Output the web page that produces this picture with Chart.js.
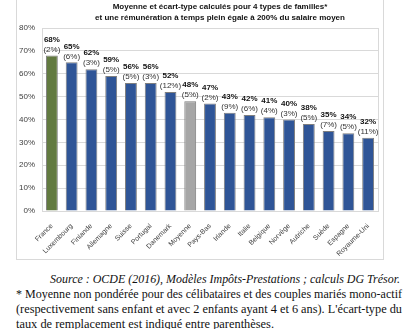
<!DOCTYPE html>
<html>
<head>
<meta charset="utf-8">
<script src="https://cdn.jsdelivr.net/npm/chart.js@4.4.0/dist/chart.umd.min.js"></script>
<style>
  body { margin: 0; background: #fff; width: 415px; height: 329px; overflow: hidden; position: relative; }
  #frame { position: absolute; left: 16px; top: -1px; width: 366px; height: 259px; border: 1px solid #d9d9d9; }
  #wrap { position: absolute; left: 0; top: 0; width: 384px; height: 260px; }
  #notes { position: absolute; left: 16px; top: 271px; width: 386px; font-family: "Liberation Serif", serif; font-size: 13px; line-height: 15px; color: #111; }
  #notes div { white-space: nowrap; transform-origin: left center; }
  #notes .src { font-style: italic; }
</style>
</head>
<body>
<div id="frame"></div>
<div id="wrap"><canvas id="BarChart" width="384" height="260"></canvas></div>
<div id="notes">
  <div class="src">Source : OCDE (2016), Modèles Impôts-Prestations ; calculs DG Trésor.</div>
  <div class="fit">* Moyenne non pondérée pour des célibataires et des couples mariés mono-actif</div>
  <div class="fit">(respectivement sans enfant et avec 2 enfants ayant 4 et 6 ans). L'écart-type du</div>
  <div class="last">taux de remplacement est indiqué entre parenthèses.</div>
</div>
<script>
const countries = ["France", "Luxembourg", "Finlande", "Allemagne", "Suisse", "Portugal", "Danemark", "Moyenne",
  "Pays-Bas", "Irlande", "Italie", "Belgique", "Norvège", "Autriche", "Suède", "Espagne", "Royaume-Uni"];
const rates = [68, 65, 62, 59, 56, 56, 52, 48, 47, 43, 42, 41, 40, 38, 35, 34, 32];//taux de remplacement
const stdDev = [2, 6, 3, 5, 5, 3, 12, 5, 2, 9, 6, 4, 3, 5, 7, 5, 11];//écart-type
const yTicks = [0, 10, 20, 30, 40, 50, 60, 70, 80];
const titleLines = ["Moyenne et écart-type calculés pour 4 types de familles*",
  "et une rémunération à temps plein égale à 200% du salaire moyen"];

const barColors = countries.map(c => c === "France" ? "#627a40" : (c === "Moyenne" ? "#a6a6a6" : "#2f5597"));

// titre + étiquettes au-dessus des barres
const labelPlugin = {
  id: "labels",
  afterDraw(chart) {
    const ctx = chart.ctx;
    const area = chart.chartArea;
    ctx.save();
    ctx.strokeStyle = "#d9d9d9";
    ctx.lineWidth = 1;
    ctx.beginPath();
    ctx.moveTo(area.right + 0.5, area.top);
    ctx.lineTo(area.right + 0.5, area.bottom);
    ctx.stroke();

    ctx.textAlign = "center";
    ctx.textBaseline = "middle";
    ctx.fillStyle = "#111";
    ctx.font = "bold 8px 'Liberation Sans', Arial, sans-serif";
    ctx.fillText(titleLines[0], 220, 7);
    ctx.fillText(titleLines[1], 220, 18);

    const meta = chart.getDatasetMeta(0);
    meta.data.forEach((bar, i) => {
      ctx.font = "bold 8px 'Liberation Sans', Arial, sans-serif";
      ctx.fillStyle = "#111";
      ctx.fillText(rates[i] + "%", bar.x, bar.y - 16);
      ctx.font = "8px 'Liberation Sans', Arial, sans-serif";
      ctx.fillStyle = "#333";
      ctx.fillText("(" + stdDev[i] + "%)", bar.x, bar.y - 6);
    });
    ctx.restore();
  }
};

new Chart(document.getElementById("BarChart").getContext("2d"), {
  type: "bar",
  data: {
    labels: countries,
    datasets: [{
      data: rates,
      backgroundColor: barColors,
      borderColor: "#7f7f7f",
      borderWidth: 1,
      categoryPercentage: 1,
      barPercentage: 0.6
    }]
  },
  options: {
    responsive: false,
    animation: false,
    layout: { padding: { left: 16, right: 6, top: 28, bottom: 0 } },
    plugins: { legend: { display: false }, tooltip: { enabled: false } },
    scales: {
      y: {
        min: 0, max: 80,
        afterFit(scale) { scale.width = 26; },
        afterBuildTicks(scale) { scale.ticks = yTicks.map(v => ({ value: v })); },
        ticks: {
          autoSkip: false, padding: 7,
          color: "#404040",
          font: { family: "'Liberation Sans', Arial, sans-serif", size: 8 },
          callback: v => v + "%"
        },
        grid: { color: "#d9d9d9", drawTicks: false },
        border: { color: "#d9d9d9" }
      },
      x: {
        afterFit(scale) { scale.height = 49; },
        ticks: {
          autoSkip: false, maxRotation: 45, minRotation: 45, padding: 3,
          color: "#404040",
          font: { family: "'Liberation Sans', Arial, sans-serif", size: 7 }
        },
        grid: { display: false },
        border: { color: "#d9d9d9" }
      }
    }
  },
  plugins: [labelPlugin]
});

// ajuste les lignes du texte de note
function naturalWidth(el) {
  el.style.display = "inline-block";
  const w = el.getBoundingClientRect().width;
  el.style.display = "block";
  return w;
}
document.querySelectorAll("#notes .fit").forEach(el => {
  const target = 386;
  const w = naturalWidth(el);
  if (w > target) {
    el.style.transform = "scaleX(" + (target / w) + ")";
  } else {
    const gaps = el.textContent.split(" ").length - 1;
    el.style.wordSpacing = ((target - w) / gaps) + "px";
  }
});
const src = document.querySelector("#notes .src");
src.style.transform = "translateX(34px) scaleX(" + (350 / naturalWidth(src)) + ")";
const last = document.querySelector("#notes .last");
last.style.transform = "scaleX(" + (258 / naturalWidth(last)) + ")";
</script>
</body>
</html>
